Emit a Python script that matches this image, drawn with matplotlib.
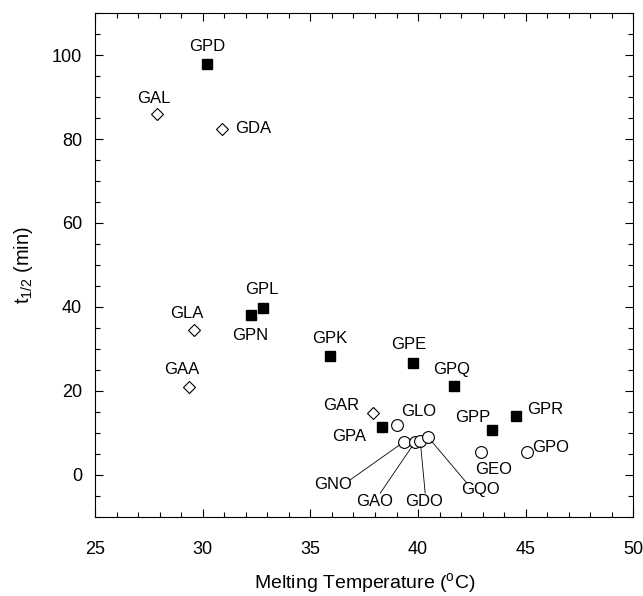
import matplotlib
matplotlib.use("Agg")
import matplotlib.pyplot as plt
from matplotlib.ticker import MultipleLocator

plt.rcParams['font.family'] = ['Liberation Sans', 'DejaVu Sans']

# Peptides: square = GP* series (filled), diamond = GxA/GxL (open), circle = xO (open)
sq_names = ["GPD", "GPL", "GPN", "GPK", "GPE", "GPQ", "GPA", "GPP", "GPR"]
sq_tm = [30.19, 32.79, 32.25, 35.9, 39.76, 41.65, 38.32, 43.43, 44.56]
sq_t = [97.9, 39.7, 38.1, 28.3, 26.6, 21.2, 11.4, 10.7, 14.0]
sq_lx = [30.19, 32.75, 32.2, 35.92, 39.56, 41.57, 36.82, 42.55, 45.91]
sq_ly = [102.0, 44.2, 33.1, 32.5, 31.0, 25.2, 9.1, 13.7, 15.5]

di_names = ["GAL", "GDA", "GLA", "GAA", "GAR"]
di_tm = [27.87, 30.89, 29.6, 29.38, 37.9]
di_t = [85.9, 82.3, 34.5, 20.9, 14.7]
di_lx = [27.71, 32.36, 29.26, 29.03, 36.42]
di_ly = [89.7, 82.5, 38.5, 25.0, 16.4]

ci_names = ["GLO", "GEO", "GPO"]
ci_tm = [39.02, 42.94, 45.06]
ci_t = [11.9, 5.5, 5.5]
ci_lx = [40.02, 43.51, 46.14]
ci_ly = [15.1, 1.2, 6.4]

# circles labelled with leader lines
cl_names = ["GNO", "GAO", "GDO", "GQO"]
cl_tm = [39.36, 39.87, 40.1, 40.46]
cl_t = [7.9, 7.9, 8.1, 9.0]
cl_lx = [36.07, 37.96, 40.29, 42.89]
cl_ly = [-2.4, -6.4, -6.4, -3.6]
cl_ex = [36.85, 38.24, 40.33, 42.27]
cl_ey = [-1.2, -4.4, -4.4, -2.0]

fig = plt.figure(figsize=(6.43, 5.96), dpi=100)
ax = fig.add_axes([0.148, 0.133, 0.837, 0.845])

fs = 12
ax.plot(sq_tm, sq_t, linestyle='none', marker='s', ms=7, mfc='black', mec='black', zorder=3)
ax.plot(di_tm, di_t, linestyle='none', marker='D', ms=5.8, mfc='white', mec='black', mew=0.8, zorder=3)
ax.plot(ci_tm + cl_tm, ci_t + cl_t, linestyle='none', marker='o', ms=8.5, mfc='white', mec='black', mew=0.8, zorder=3)

for n, x, y in zip(sq_names + di_names + ci_names, sq_lx + di_lx + ci_lx, sq_ly + di_ly + ci_ly):
    ax.text(x, y, n, ha='center', va='center', fontsize=fs)

for n, x, y, lx, ly, ex, ey in zip(cl_names, cl_tm, cl_t, cl_lx, cl_ly, cl_ex, cl_ey):
    ax.text(lx, ly, n, ha='center', va='center', fontsize=fs)
    ax.annotate("", xy=(x, y), xytext=(ex, ey),
                arrowprops=dict(arrowstyle='-', lw=0.6, color='black', shrinkA=0, shrinkB=4))

ax.set_xlim(25, 50)
ax.set_ylim(-10, 110)
ax.xaxis.set_major_locator(MultipleLocator(5))
ax.xaxis.set_minor_locator(MultipleLocator(1))
ax.yaxis.set_major_locator(MultipleLocator(20))
ax.yaxis.set_minor_locator(MultipleLocator(5))
ax.set_yticks([0, 20, 40, 60, 80, 100])
ax.tick_params(which='both', direction='in', top=True, right=True, labelsize=13)
ax.tick_params(which='major', length=6, width=0.8)
ax.tick_params(which='minor', length=3.5, width=0.8)
ax.tick_params(axis='x', which='major', pad=17.5)
ax.tick_params(axis='y', which='major', pad=9.5)

ax.set_xlabel("Melting Temperature ($\\mathregular{^o}$C)", fontsize=14, labelpad=9)
ax.set_ylabel("$\\mathregular{t_{1/2}}$ (min)", fontsize=14.5, labelpad=12)

fig.savefig("out.png", dpi=100)
